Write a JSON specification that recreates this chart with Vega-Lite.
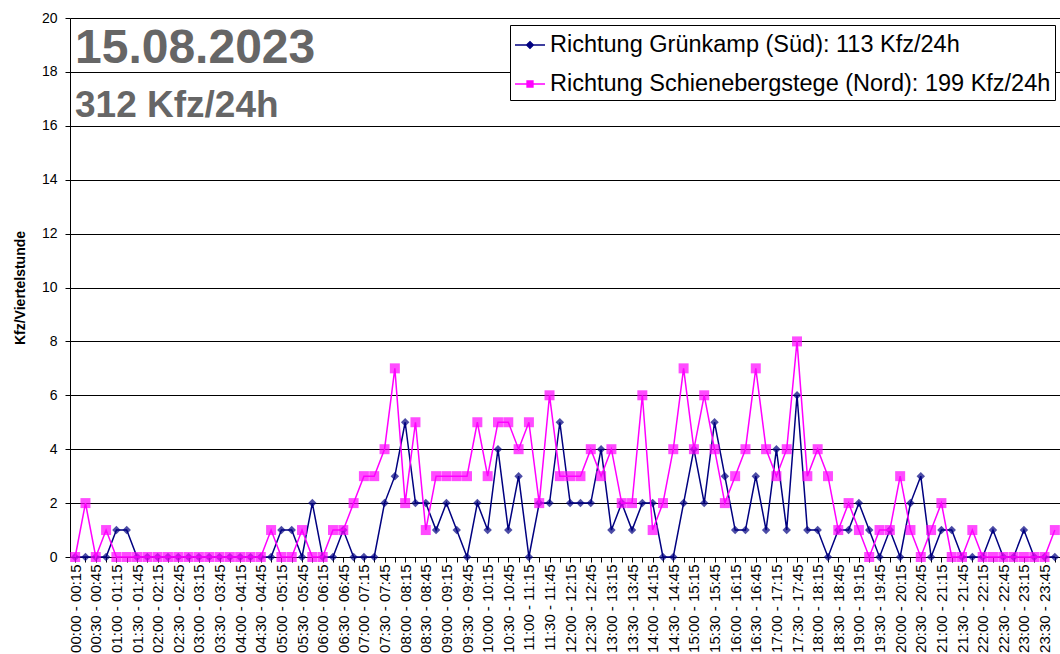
{
  "$schema": "https://vega.github.io/schema/vega-lite/v6.json",
  "width": 990,
  "height": 539,
  "autosize": "none",
  "padding": {"left": 70, "top": 18, "right": 0, "bottom": 97},
  "background": "white",
  "config": {
    "view": {"stroke": null},
    "font": "Liberation Sans"
  },
  "title": {
    "text": "15.08.2023",
    "subtitle": "312 Kfz/24h",
    "anchor": "start",
    "frame": "group",
    "orient": "top",
    "offset": 0,
    "dx": 5,
    "dy": 113,
    "font": "Liberation Sans",
    "fontSize": 48,
    "fontWeight": "bold",
    "color": "#666666",
    "subtitleFont": "Liberation Sans",
    "subtitleFontSize": 37,
    "subtitleFontWeight": "bold",
    "subtitleColor": "#666666",
    "subtitlePadding": 15
  },
  "data": {
    "values": [
      {"t": "00:00 - 00:15", "sued": 0, "nord": 0},
      {"t": "00:15 - 00:30", "sued": 0, "nord": 2},
      {"t": "00:30 - 00:45", "sued": 0, "nord": 0},
      {"t": "00:45 - 01:00", "sued": 0, "nord": 1},
      {"t": "01:00 - 01:15", "sued": 1, "nord": 0},
      {"t": "01:15 - 01:30", "sued": 1, "nord": 0},
      {"t": "01:30 - 01:45", "sued": 0, "nord": 0},
      {"t": "01:45 - 02:00", "sued": 0, "nord": 0},
      {"t": "02:00 - 02:15", "sued": 0, "nord": 0},
      {"t": "02:15 - 02:30", "sued": 0, "nord": 0},
      {"t": "02:30 - 02:45", "sued": 0, "nord": 0},
      {"t": "02:45 - 03:00", "sued": 0, "nord": 0},
      {"t": "03:00 - 03:15", "sued": 0, "nord": 0},
      {"t": "03:15 - 03:30", "sued": 0, "nord": 0},
      {"t": "03:30 - 03:45", "sued": 0, "nord": 0},
      {"t": "03:45 - 04:00", "sued": 0, "nord": 0},
      {"t": "04:00 - 04:15", "sued": 0, "nord": 0},
      {"t": "04:15 - 04:30", "sued": 0, "nord": 0},
      {"t": "04:30 - 04:45", "sued": 0, "nord": 0},
      {"t": "04:45 - 05:00", "sued": 0, "nord": 1},
      {"t": "05:00 - 05:15", "sued": 1, "nord": 0},
      {"t": "05:15 - 05:30", "sued": 1, "nord": 0},
      {"t": "05:30 - 05:45", "sued": 0, "nord": 1},
      {"t": "05:45 - 06:00", "sued": 2, "nord": 0},
      {"t": "06:00 - 06:15", "sued": 0, "nord": 0},
      {"t": "06:15 - 06:30", "sued": 0, "nord": 1},
      {"t": "06:30 - 06:45", "sued": 1, "nord": 1},
      {"t": "06:45 - 07:00", "sued": 0, "nord": 2},
      {"t": "07:00 - 07:15", "sued": 0, "nord": 3},
      {"t": "07:15 - 07:30", "sued": 0, "nord": 3},
      {"t": "07:30 - 07:45", "sued": 2, "nord": 4},
      {"t": "07:45 - 08:00", "sued": 3, "nord": 7},
      {"t": "08:00 - 08:15", "sued": 5, "nord": 2},
      {"t": "08:15 - 08:30", "sued": 2, "nord": 5},
      {"t": "08:30 - 08:45", "sued": 2, "nord": 1},
      {"t": "08:45 - 09:00", "sued": 1, "nord": 3},
      {"t": "09:00 - 09:15", "sued": 2, "nord": 3},
      {"t": "09:15 - 09:30", "sued": 1, "nord": 3},
      {"t": "09:30 - 09:45", "sued": 0, "nord": 3},
      {"t": "09:45 - 10:00", "sued": 2, "nord": 5},
      {"t": "10:00 - 10:15", "sued": 1, "nord": 3},
      {"t": "10:15 - 10:30", "sued": 4, "nord": 5},
      {"t": "10:30 - 10:45", "sued": 1, "nord": 5},
      {"t": "10:45 - 11:00", "sued": 3, "nord": 4},
      {"t": "11:00 - 11:15", "sued": 0, "nord": 5},
      {"t": "11:15 - 11:30", "sued": 2, "nord": 2},
      {"t": "11:30 - 11:45", "sued": 2, "nord": 6},
      {"t": "11:45 - 12:00", "sued": 5, "nord": 3},
      {"t": "12:00 - 12:15", "sued": 2, "nord": 3},
      {"t": "12:15 - 12:30", "sued": 2, "nord": 3},
      {"t": "12:30 - 12:45", "sued": 2, "nord": 4},
      {"t": "12:45 - 13:00", "sued": 4, "nord": 3},
      {"t": "13:00 - 13:15", "sued": 1, "nord": 4},
      {"t": "13:15 - 13:30", "sued": 2, "nord": 2},
      {"t": "13:30 - 13:45", "sued": 1, "nord": 2},
      {"t": "13:45 - 14:00", "sued": 2, "nord": 6},
      {"t": "14:00 - 14:15", "sued": 2, "nord": 1},
      {"t": "14:15 - 14:30", "sued": 0, "nord": 2},
      {"t": "14:30 - 14:45", "sued": 0, "nord": 4},
      {"t": "14:45 - 15:00", "sued": 2, "nord": 7},
      {"t": "15:00 - 15:15", "sued": 4, "nord": 4},
      {"t": "15:15 - 15:30", "sued": 2, "nord": 6},
      {"t": "15:30 - 15:45", "sued": 5, "nord": 4},
      {"t": "15:45 - 16:00", "sued": 3, "nord": 2},
      {"t": "16:00 - 16:15", "sued": 1, "nord": 3},
      {"t": "16:15 - 16:30", "sued": 1, "nord": 4},
      {"t": "16:30 - 16:45", "sued": 3, "nord": 7},
      {"t": "16:45 - 17:00", "sued": 1, "nord": 4},
      {"t": "17:00 - 17:15", "sued": 4, "nord": 3},
      {"t": "17:15 - 17:30", "sued": 1, "nord": 4},
      {"t": "17:30 - 17:45", "sued": 6, "nord": 8},
      {"t": "17:45 - 18:00", "sued": 1, "nord": 3},
      {"t": "18:00 - 18:15", "sued": 1, "nord": 4},
      {"t": "18:15 - 18:30", "sued": 0, "nord": 3},
      {"t": "18:30 - 18:45", "sued": 1, "nord": 1},
      {"t": "18:45 - 19:00", "sued": 1, "nord": 2},
      {"t": "19:00 - 19:15", "sued": 2, "nord": 1},
      {"t": "19:15 - 19:30", "sued": 1, "nord": 0},
      {"t": "19:30 - 19:45", "sued": 0, "nord": 1},
      {"t": "19:45 - 20:00", "sued": 1, "nord": 1},
      {"t": "20:00 - 20:15", "sued": 0, "nord": 3},
      {"t": "20:15 - 20:30", "sued": 2, "nord": 1},
      {"t": "20:30 - 20:45", "sued": 3, "nord": 0},
      {"t": "20:45 - 21:00", "sued": 0, "nord": 1},
      {"t": "21:00 - 21:15", "sued": 1, "nord": 2},
      {"t": "21:15 - 21:30", "sued": 1, "nord": 0},
      {"t": "21:30 - 21:45", "sued": 0, "nord": 0},
      {"t": "21:45 - 22:00", "sued": 0, "nord": 1},
      {"t": "22:00 - 22:15", "sued": 0, "nord": 0},
      {"t": "22:15 - 22:30", "sued": 1, "nord": 0},
      {"t": "22:30 - 22:45", "sued": 0, "nord": 0},
      {"t": "22:45 - 23:00", "sued": 0, "nord": 0},
      {"t": "23:00 - 23:15", "sued": 1, "nord": 0},
      {"t": "23:15 - 23:30", "sued": 0, "nord": 0},
      {"t": "23:30 - 23:45", "sued": 0, "nord": 0},
      {"t": "23:45 - 24:00", "sued": 0, "nord": 1}
    ]
  },
  "transform": [
    {"fold": ["sued", "nord"], "as": ["richtung", "kfz"]}
  ],
  "encoding": {
    "x": {
      "field": "t",
      "type": "ordinal",
      "sort": null,
      "scale": {"type": "point", "padding": 0.5},
      "axis": {
        "title": null,
        "labelAngle": -90,
        "labelFont": "Liberation Sans",
        "labelFontSize": 15,
        "labelColor": "black",
        "labelPadding": 2,
        "labelOverlap": false,
        "labelExpr": "substring(datum.label, 3, 5) == '00' || substring(datum.label, 3, 5) == '30' ? datum.label : ''",
        "tickColor": "black",
        "tickSize": 5,
        "domainColor": "black",
        "domainWidth": 1,
        "grid": false
      }
    },
    "y": {
      "field": "kfz",
      "type": "quantitative",
      "scale": {"domain": [0, 20], "nice": false, "zero": true},
      "axis": {
        "title": "Kfz/Viertelstunde",
        "titleFont": "Liberation Sans",
        "titleFontSize": 14,
        "titleFontWeight": "bold",
        "titleColor": "black",
        "titlePadding": 14,
        "values": [0, 2, 4, 6, 8, 10, 12, 14, 16, 18, 20],
        "labelFont": "Liberation Sans",
        "labelFontSize": 14,
        "labelColor": "black",
        "labelPadding": 8,
        "tickColor": "black",
        "tickSize": 5,
        "domainColor": "black",
        "domainWidth": 1,
        "grid": true,
        "gridColor": "black",
        "gridWidth": 1,
        "gridOpacity": 1
      }
    }
  },
  "layer": [
    {
      "transform": [{"filter": "datum.richtung == 'sued'"}],
      "mark": {"type": "line", "strokeWidth": 1.5},
      "encoding": {
        "color": {
          "field": "richtung",
          "type": "nominal",
          "scale": {"domain": ["sued", "nord"], "range": ["#000080", "#ff00ff"]},
          "legend": {
            "title": null,
            "orient": "none",
            "legendX": 440,
            "legendY": 7,
            "padding": 4,
            "rowPadding": 11,
            "fillColor": "white",
            "strokeColor": "black",
            "cornerRadius": 0,
            "labelFont": "Liberation Sans",
            "labelFontSize": 23.5,
            "labelColor": "black",
            "labelLimit": 0,
            "labelOffset": 4,
            "symbolSize": 900,
            "symbolStrokeWidth": 1.3,
            "labelExpr": "datum.value == 'sued' ? 'Richtung Grünkamp (Süd): 113 Kfz/24h' : 'Richtung Schienebergstege (Nord): 199 Kfz/24h'",
            "encode": {
              "symbols": {
                "update": {
                  "shape": {"signal": "datum.value == 'sued' ? 'M-1,0H1M-0.23,0L0,-0.23L0.23,0L0,0.23Z' : 'M-1,0H1M-0.2,-0.2H0.2V0.2H-0.2Z'"},
                  "fill": {"signal": "datum.value == 'sued' ? '#000080' : '#ff00ff'"},
                  "stroke": {"signal": "datum.value == 'sued' ? '#000080' : '#ff00ff'"}
                }
              }
            }
          }
        }
      }
    },
    {
      "transform": [{"filter": "datum.richtung == 'sued'"}],
      "mark": {"type": "point", "shape": "diamond", "filled": true, "size": 72, "color": "#000080"}
    },
    {
      "transform": [{"filter": "datum.richtung == 'nord'"}],
      "mark": {"type": "line", "strokeWidth": 1.5},
      "encoding": {
        "color": {"field": "richtung", "type": "nominal"}
      }
    },
    {
      "transform": [{"filter": "datum.richtung == 'nord'"}],
      "mark": {"type": "point", "shape": "square", "filled": true, "size": 100, "color": "#ff00ff"}
    }
  ]
}
